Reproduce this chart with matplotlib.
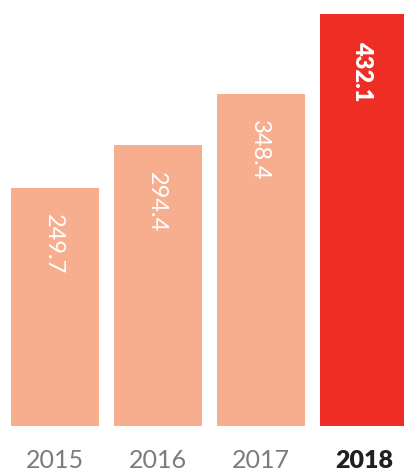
import matplotlib.pyplot as plt

# chart data
years = ['2015', '2016', '2017', '2018']
values = [249.7, 294.4, 348.4, 432.1]
highlight = '2018'

SALMON = '#F7AE8F'
RED = '#EE2E24'
GREY = '#7B7B7B'
DARK = '#231F20'
FONT = ['Lato', 'DejaVu Sans']

fig = plt.figure(figsize=(4.04, 4.72), dpi=100)
# axes spans the full width, baseline sits at ~425px from the top
ax = fig.add_axes([0, 1 - 425.5 / 472, 1, 425.5 / 472])

x = list(range(len(years)))
colors = [RED if y == highlight else SALMON for y in years]
ax.bar(x, values, width=0.854, color=colors)

ax.set_xlim(-0.534, 3.388)
ax.set_ylim(0, 447)
ax.axis('off')

for i, (yr, v) in enumerate(zip(years, values)):
    bold = yr == highlight
    # value label, rotated, hanging below the bar top
    ax.annotate(f'{v:.1f}', xy=(i, v), xytext=(-1.5, -19), textcoords='offset points',
                rotation=-90, ha='center', va='top', color='white',
                fontsize=17, fontweight='heavy' if bold else 'normal', family=FONT)
    # year label under the bar
    ax.text(i, -0.099, yr, transform=ax.get_xaxis_transform(),
            ha='center', va='baseline', fontsize=18,
            color=DARK if bold else GREY,
            fontweight='heavy' if bold else 'normal', family=FONT)

fig.savefig('out.png', dpi=100)
